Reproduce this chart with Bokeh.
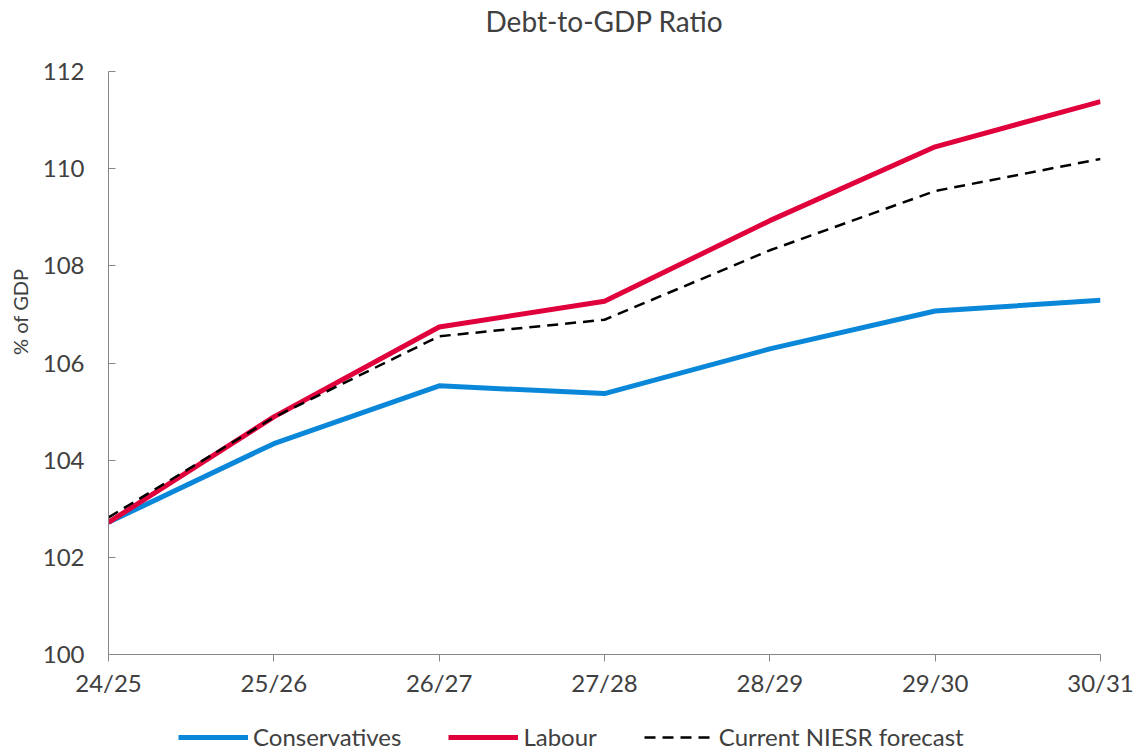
from bokeh.plotting import figure
from bokeh.models import Range1d, FixedTicker, Legend, LegendItem, Title
from bokeh.layouts import column
from bokeh.embed import file_html
from bokeh.resources import INLINE

years = ["24/25", "25/26", "26/27", "27/28", "28/29", "29/30", "30/31"]
conservatives = [102.72, 104.34, 105.53, 105.37, 106.29, 107.07, 107.29]
labour = [102.72, 104.89, 106.74, 107.27, 108.93, 110.45, 111.38]
niesr = [102.82, 104.88, 106.55, 106.89, 108.32, 109.54, 110.20]
y_ticks = [100, 102, 104, 106, 108, 110, 112]
series_names = ["Conservatives", "Labour", "Current NIESR forecast"]

FONT = "Lato"
TXT = "#404040"
AX = "#868686"
NB = "\u00a0"
BLUE = "#0B87D9"
RED = "#E0003C"

xs = list(range(len(years)))

p = figure(frame_width=992, frame_height=583, output_backend="svg",
           toolbar_location=None, x_range=Range1d(0, len(years) - 1),
           y_range=Range1d(100, 112),
           min_border_left=108, min_border_right=38, min_border_top=71,
           min_border_bottom=56)
p.outline_line_color = None
p.background_fill_color = "white"
p.border_fill_color = "white"
p.xgrid.visible = False
p.ygrid.visible = False

spacer = Title(text=NB, text_font=FONT, text_font_size="20px", standoff=8)
p.add_layout(spacer, "above")
t = Title(text="Debt-to-GDP Ratio", align="center", text_font=FONT,
          text_font_size="28px", text_color=TXT, text_font_style="normal",
          standoff=0)
p.add_layout(t, "above")

p.line(xs, conservatives, line_color=BLUE, line_width=5)
p.line(xs, labour, line_color=RED, line_width=5)
p.line(xs, niesr, line_color="black", line_width=2.5, line_dash="11 7")

p.xaxis.ticker = FixedTicker(ticks=xs)
p.xaxis.major_label_overrides = {i: y for i, y in enumerate(years)}
p.yaxis.ticker = FixedTicker(ticks=y_ticks)
p.yaxis.axis_label = NB * 20 + "% of GDP"

for ax in (p.xaxis[0], p.yaxis[0]):
    ax.axis_line_color = AX
    ax.major_tick_line_color = AX
    ax.minor_tick_line_color = None
    ax.major_label_text_font = FONT
    ax.major_label_text_font_size = "24px"
    ax.major_label_text_color = TXT
    ax.axis_label_text_font = FONT
    ax.axis_label_text_font_size = "20px"
    ax.axis_label_text_color = TXT
    ax.axis_label_text_font_style = "normal"

p.xaxis.major_tick_in = 0
p.xaxis.major_tick_out = 7
p.xaxis.major_label_standoff = 6
p.yaxis.major_tick_in = 7
p.yaxis.major_tick_out = 0
p.yaxis.major_label_standoff = 24
p.yaxis.axis_label_standoff = 8

# legend strip (series drawn out of its view so only the legend shows)
lg = figure(width=1138, height=41, output_backend="svg", toolbar_location=None,
            x_axis_location=None, y_axis_location=None,
            x_range=Range1d(0, len(years) - 1), y_range=Range1d(0, 1),
            min_border_left=0, min_border_right=0, min_border_top=0,
            min_border_bottom=0)
lg.outline_line_color = None
lg.xgrid.visible = False
lg.ygrid.visible = False
l1 = lg.line(xs, conservatives, line_color=BLUE, line_width=5)
l2 = lg.line(xs, labour, line_color=RED, line_width=5)
l3 = lg.line(xs, niesr, line_color="black", line_width=2.5, line_dash="11 7")

legend = Legend(items=[LegendItem(label=series_names[0], renderers=[l1]),
                       LegendItem(label=series_names[1], renderers=[l2]),
                       LegendItem(label=series_names[2], renderers=[l3])],
                orientation="horizontal", location=(70, 0),
                glyph_width=70, glyph_height=20, label_height=20,
                label_standoff=5, spacing=47,
                label_text_font=FONT, label_text_font_size="24px",
                label_text_color=TXT, border_line_color=None,
                background_fill_alpha=0, padding=0, margin=0)
lg.add_layout(legend, "center")

layout = column(p, lg, spacing=0)
open("out.html", "w").write(file_html(layout, INLINE))
